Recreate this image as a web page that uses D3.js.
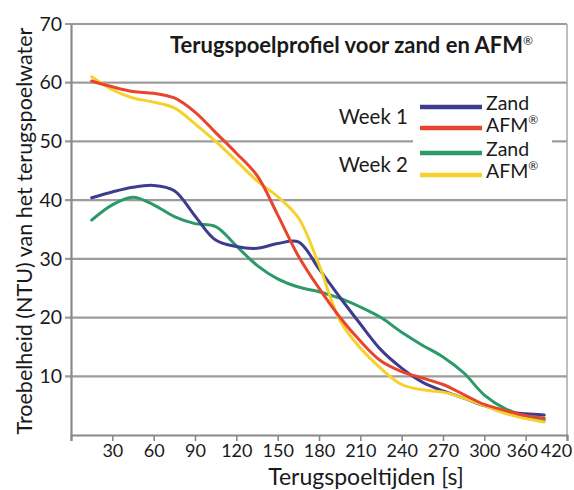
<!DOCTYPE html>
<html><head><meta charset="utf-8">
<script src="https://cdn.jsdelivr.net/npm/d3@7"></script>
<style>body{margin:0;background:#fff}svg{display:block}text{font-family:Lato,"Open Sans",sans-serif;fill:#1a1a1a}</style>
</head><body><svg id="c" width="574" height="490"></svg>
<script>
// time points (s)
const times = [15,30,45,60,75,90,105,120,135,150,165,180,195,210,225,240,255,270,285,300,330,360,387];
const zandWeek1 = [40.4,41.4,42.2,42.5,41.6,37.3,33.2,32.1,31.8,32.6,32.9,28.3,23.5,18.9,14.5,11.4,9.0,7.5,6.3,5.0,4.0,3.6,3.4];
const afmWeek1  = [60.3,59.3,58.5,58.2,57.4,55.0,51.5,48.0,44.2,37.5,30.5,25.0,20.1,16.0,12.6,10.8,9.7,8.6,6.9,5.2,4.2,3.3,2.9];
const zandWeek2 = [36.6,39.2,40.5,39.2,37.2,36.0,35.5,32.2,28.9,26.6,25.2,24.4,23.3,21.8,20.0,17.5,15.3,13.3,10.6,6.8,4.5,3.2,2.6];
const afmWeek2  = [61.0,58.8,57.4,56.7,55.7,53.0,50.0,46.7,43.3,40.6,37.0,29.0,19.6,14.8,11.3,8.6,7.7,7.3,6.3,5.0,3.7,2.8,2.2];
const xTicks = [30,60,90,120,150,180,210,240,270,300,360,420];
const yTicks = [10,20,30,40,50,60,70];
const seriesNames = ["Zand","AFM","Zand","AFM"];
const weekNames = ["Week 1","Week 2"];
const colors = ["#3f3b8e","#e8452f","#2b9a68","#f6d12c"];

const svg = d3.select("#c");
const L=71,R=567,T=24,B=435;
const x = d3.scaleLinear().domain([0,300,360,420]).range([L, L+(R-L)*10/12, L+(R-L)*11/12, R]);
const y = d3.scaleLinear().domain([0,70]).range([B,T]);

// gridlines
svg.append("g").selectAll("line").data(yTicks).join("line")
  .attr("x1",L-6).attr("x2",R).attr("y1",d=>y(d)).attr("y2",d=>y(d))
  .attr("stroke","#9c9c9c").attr("stroke-width",2.2);
// right border
svg.append("line").attr("x1",R).attr("x2",R).attr("y1",T).attr("y2",B).attr("stroke","#a8a8a8").attr("stroke-width",1.5);

// axes
const yAxis = d3.axisLeft(y).tickValues(yTicks).tickSize(0).tickPadding(9);
const gy = svg.append("g").attr("transform",`translate(${L},0)`).call(yAxis);
gy.select(".domain").attr("stroke","#8a8a8a").attr("stroke-width",2.2);
gy.selectAll("text").attr("font-size",19.5).attr("font-family","Lato").attr("fill","#1a1a1a");

const xAxis = d3.axisBottom(x).tickValues([0,...xTicks]).tickSize(6).tickPadding(3)
  .tickFormat(d=>d===0?"":d);
const gx = svg.append("g").attr("transform",`translate(0,${B})`).call(xAxis);
gx.select(".domain").attr("stroke","#8a8a8a").attr("stroke-width",2.2);
gx.selectAll("line").attr("stroke","#8a8a8a").attr("stroke-width",1.6);
gx.selectAll("text").attr("font-size",18).attr("font-family","Lato").attr("fill","#1a1a1a")
  .attr("dx",d=>d===420?-11:(d===360?-4:0));

// legend background
svg.append("rect").attr("x",413).attr("y",89).attr("width",139).attr("height",102).attr("fill","#fff");

// lines
const allSeries=[zandWeek1,afmWeek1,zandWeek2,afmWeek2];
const line = d3.line().x((d,i)=>x(times[i])).y(d=>y(d)).curve(d3.curveCatmullRom.alpha(0.5));
const drawOrder=[2,0,3,1];
drawOrder.forEach(k=>{
  svg.append("path").datum(allSeries[k]).attr("d",line).attr("fill","none")
    .attr("stroke",colors[k]).attr("stroke-width",3).attr("stroke-linecap","round").attr("stroke-linejoin","round");
});

// title
const title = svg.append("text").attr("x",170).attr("y",53).attr("font-size",22).attr("font-weight","bold");
title.append("tspan").text("Terugspoelprofiel voor zand en AFM");
title.append("tspan").text("®").attr("font-size",12).attr("dy",-8).attr("font-weight","normal");

// legend
const lg = svg.append("g");
const legY=[107,128,153,175];
const labY=[110,132,156,178];
allSeries.forEach((s,k)=>{
  lg.append("line").attr("x1",420).attr("x2",482).attr("y1",legY[k]).attr("y2",legY[k])
    .attr("stroke",colors[k]).attr("stroke-width",4.5);
  const t=lg.append("text").attr("x",486).attr("y",labY[k]).attr("font-size",19.5);
  t.append("tspan").text(seriesNames[k]);
  if(seriesNames[k]==="AFM") t.append("tspan").text("®").attr("font-size",12).attr("dy",-8);
});
weekNames.forEach((w,i)=>{
  lg.append("text").attr("x",408).attr("y",[124,172][i]).attr("text-anchor","end").attr("font-size",20.5).text(w);
});

// axis titles
svg.append("text").attr("x",366).attr("y",485).attr("text-anchor","middle").attr("font-size",23).text("Terugspoeltijden [s]");
svg.append("text").attr("transform","translate(32,231) rotate(-90)").attr("text-anchor","middle").attr("font-size",21.5)
  .text("Troebelheid (NTU) van het terugspoelwater");
</script></body></html>
